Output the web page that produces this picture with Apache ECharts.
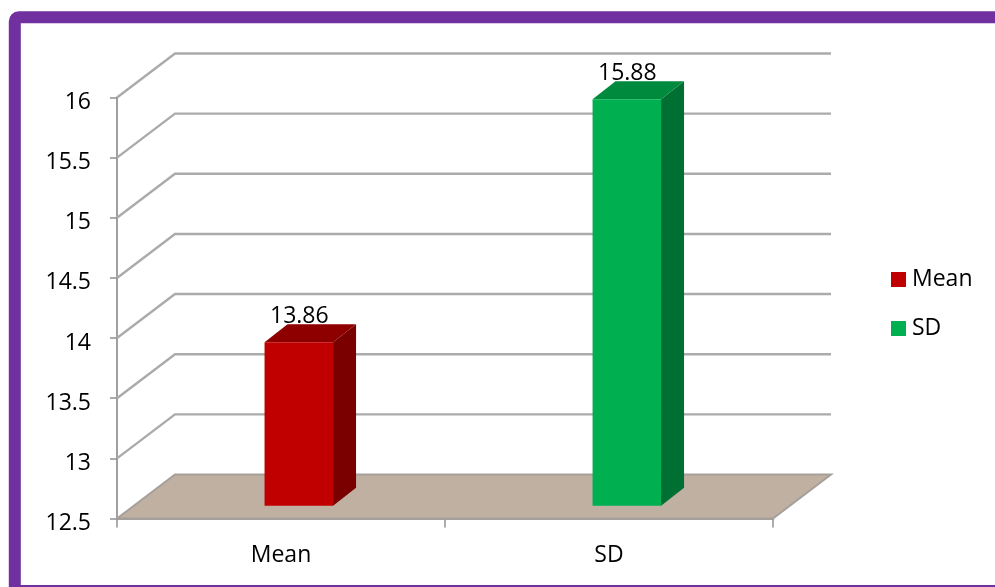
<!DOCTYPE html>
<html>
<head>
<meta charset="utf-8">
<style>html,body{margin:0;padding:0;background:#fff;overflow:hidden}#c{width:995px;height:587px}</style>
<script src="https://cdn.jsdelivr.net/npm/echarts@6/dist/echarts.min.js"></script>
</head>
<body>
<div id="c"></div>
<script>
const categories = ['Mean', 'SD'];
const meanValues = [13.86];
const sdValues = [15.88];
const yTicks = [12.5, 13, 13.5, 14, 14.5, 15, 15.5, 16];
const fontFamily = '"Open Sans"';
const GRID_LINE = '#ABABAB';

function wallItem(params, api) {
  const cs = params.coordSys;
  const y = api.coord([0, api.value(0)])[1];
  const xl = cs.x, xr = cs.x + cs.width, dx = 58, dy = -44;
  return { type: 'polyline', silent: true,
    shape: { points: [[xl, y], [xl + dx, y + dy], [xr + dx, y + dy]] },
    style: { fill: null, stroke: GRID_LINE, lineWidth: 2.4 } };
}
function floorItem(params) {
  const cs = params.coordSys;
  const b = cs.y + cs.height, xl = cs.x, xr = cs.x + cs.width, dx = 58, dy = -44;
  return { type: 'polygon', silent: true,
    shape: { points: [[xl, b], [xl + dx, b + dy], [xr + dx, b + dy], [xr, b]] },
    style: { fill: '#BFB0A2', stroke: '#A5A09A', lineWidth: 2 } };
}
function barItem(front, side, top) {
  return function (params, api) {
    const p = api.coord([api.value(0), api.value(1)]);
    const base = api.coord([api.value(0), 12.5]);
    const ox = 17.8, oy = -12.7, w = 68.5, dx = 23, dy = -18;
    const l = p[0] + ox - w / 2, r = l + w, t = p[1] + oy, b = base[1] + oy;
    return { type: 'group', children: [
      { type: 'polygon', shape: { points: [[r, t], [r + dx, t + dy], [r + dx, b + dy], [r, b]] }, style: { fill: side } },
      { type: 'polygon', shape: { points: [[l, t], [l + dx, t + dy], [r + dx, t + dy], [r, t]] }, style: { fill: top } },
      { type: 'rect', shape: { x: l, y: t, width: w, height: b - t }, style: { fill: front } },
      { type: 'text', x: (l + r) / 2 + 0.5, y: t - 26, z2: 10, style: { text: api.value(1).toFixed(2), fill: '#000', font: '23px ' + fontFamily, align: 'center', verticalAlign: 'middle' } }
    ] };
  };
}

const chart = echarts.init(document.getElementById('c'), null, { renderer: 'canvas' });
chart.setOption({
  animation: false,
  backgroundColor: '#fff',
  graphic: [{ type: 'rect', z: -1, silent: true,
    shape: { x: 14.8, y: 17.3, width: 1010, height: 573.7, r: 4 },
    style: { fill: '#fff', stroke: '#7030A0', lineWidth: 12 } }],
  grid: { left: 117, right: 222, top: 97.5, bottom: 68.5 },
  legend: { orient: 'vertical', left: 891, top: 268, padding: 0, itemWidth: 15, itemHeight: 15, itemGap: 26,
    icon: 'rect', data: ['Mean', 'SD'],
    textStyle: { fontFamily, fontSize: 23, color: '#000', padding: [0, 0, 0, 1] } },
  xAxis: { type: 'category', data: categories, boundaryGap: true,
    axisLine: { lineStyle: { color: '#A0A0A0', width: 2 } },
    axisTick: { show: true, length: 9, alignWithLabel: false, lineStyle: { color: '#909090', width: 1.5 } },
    axisLabel: { margin: 25, fontFamily, fontSize: 23, color: '#000' } },
  yAxis: { type: 'value', min: 12.5, max: 16, interval: 0.5,
    axisLine: { show: true, lineStyle: { color: '#A0A0A0', width: 2 } },
    axisTick: { show: true, length: 7, lineStyle: { color: '#909090', width: 1.5 } },
    splitLine: { show: false },
    axisLabel: { margin: 26, fontFamily, fontSize: 23, color: '#000', verticalAlign: 'top', lineHeight: 10 } },
  series: [
    { type: 'custom', name: 'wall', silent: true, z: 1, renderItem: wallItem, data: yTicks.slice(1).map(v => [v]), encode: { y: 0 } },
    { type: 'custom', name: 'floor', silent: true, z: 2, renderItem: floorItem, data: [[12.5]], encode: { y: 0 } },
    { type: 'custom', name: 'Mean', z: 3, itemStyle: { color: '#C00000' }, renderItem: barItem('#C00000', '#7A0000', '#8E0000'),
      data: meanValues.map((v, i) => [categories[i], v]), encode: { x: 0, y: 1 } },
    { type: 'custom', name: 'SD', z: 3, itemStyle: { color: '#00B050' }, renderItem: barItem('#00B050', '#006F32', '#008A3E'),
      data: sdValues.map((v) => [categories[1], v]), encode: { x: 0, y: 1 } }
  ]
});
</script>
</body>
</html>
